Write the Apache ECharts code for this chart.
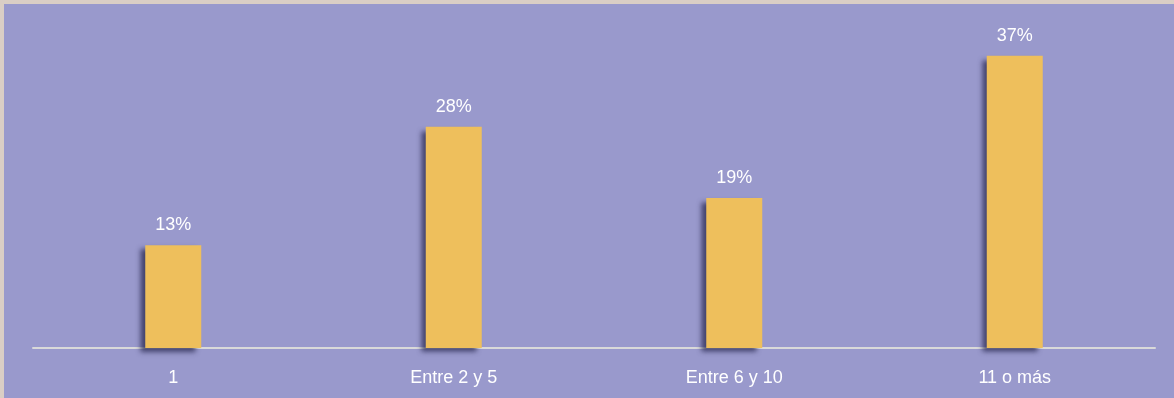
<!DOCTYPE html>
<html>
<head>
<meta charset="utf-8">
<script src="https://cdn.jsdelivr.net/npm/echarts@6/dist/echarts.min.js"></script>
<style>
  html, body { margin: 0; padding: 0; width: 1174px; height: 398px; background: #dacec5; overflow: hidden; }
  #chart { position: absolute; left: 4px; top: 4px; width: 1170px; height: 394px; }
</style>
</head>
<body>
<div id="chart"></div>
<script>
const categories = ['1', 'Entre 2 y 5', 'Entre 6 y 10', '11 o más'];
const percentages = [13, 28, 19, 37];

const font = '"Liberation Sans Narrow", "Arial Narrow", "Liberation Sans", Arial, sans-serif';

const chart = echarts.init(document.getElementById('chart'));
chart.setOption({
  backgroundColor: '#9999cc',
  animation: false,
  grid: { left: 29, right: 19, top: 28, bottom: 50 },
  xAxis: {
    type: 'category',
    data: categories,
    axisLine: { lineStyle: { color: '#d9d9d9', width: 2 } },
    axisTick: { show: false },
    axisLabel: { color: '#ffffff', fontFamily: font, fontSize: 18, margin: 21 }
  },
  yAxis: {
    type: 'value',
    min: 0,
    max: 40,
    show: false,
    splitLine: { show: false }
  },
  series: [{
    type: 'bar',
    data: percentages,
    barWidth: 56,
    itemStyle: {
      color: '#eebf5c',
      shadowColor: 'rgba(45, 45, 85, 0.8)',
      shadowBlur: 5,
      shadowOffsetX: -5,
      shadowOffsetY: 4
    },
    label: {
      show: true,
      position: 'top',
      distance: 11,
      color: '#ffffff',
      fontFamily: font,
      fontSize: 18,
      formatter: p => p.value + '%'
    }
  }]
});
</script>
</body>
</html>
